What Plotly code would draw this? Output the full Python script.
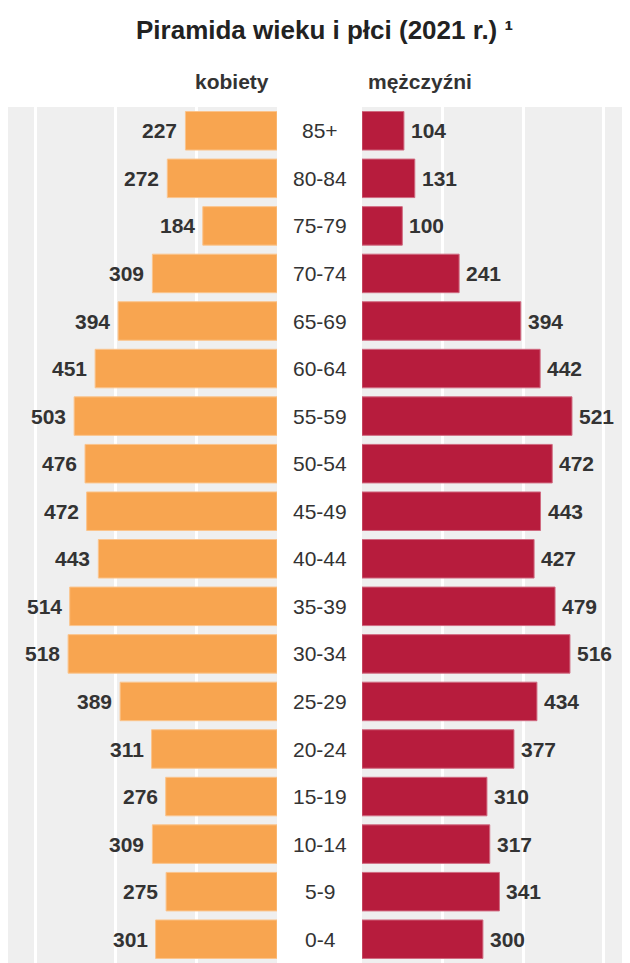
import plotly.graph_objects as go

ages = ["85+", "80-84", "75-79", "70-74", "65-69", "60-64", "55-59", "50-54", "45-49",
        "40-44", "35-39", "30-34", "25-29", "20-24", "15-19", "10-14", "5-9", "0-4"]
kobiety = [227, 272, 184, 309, 394, 451, 503, 476, 472, 443, 514, 518, 389, 311, 276, 309, 275, 301]
mezczyzni = [104, 131, 100, 241, 394, 442, 521, 472, 443, 427, 479, 516, 434, 377, 310, 317, 341, 300]

title_text = "Piramida wieku i płci (2021 r.) ¹"
left_label = "kobiety"
right_label = "mężczyźni"

# page body has an 8px margin in the browser; figure coordinates are offset by it
OFF = 8
W, H = 630, 963 - OFF
TOP, BOT = 107 - OFF, 0
FONT = "Liberation Sans, Arial, sans-serif"
ORANGE = "#F8A550"
CRIMSON = "#B71C3D"
TXT = "#333333"


def px_x(x):
    return (x - OFF) / W


ph = H - TOP - BOT


def px_y(y):
    return (H - BOT - (y - OFF)) / ph


fig = go.Figure()
fig.add_trace(go.Bar(y=ages, x=kobiety, orientation="h", xaxis="x", yaxis="y",
                     marker=dict(color=ORANGE, line=dict(color="#FBC48C", width=1)),
                     hoverinfo="x+y", showlegend=False))
fig.add_trace(go.Bar(y=ages, x=mezczyzni, orientation="h", xaxis="x2", yaxis="y",
                     marker=dict(color=CRIMSON, line=dict(color="#D06A80", width=1)),
                     hoverinfo="x+y", showlegend=False))

ann = []
for a, k, m in zip(ages, kobiety, mezczyzni):
    ann.append(dict(x=k, y=a, xref="x", yref="y", text=f"<b>{k}</b>", showarrow=False,
                    xanchor="right", xshift=-6, font=dict(family=FONT, size=21, color=TXT)))
    ann.append(dict(x=m, y=a, xref="x2", yref="y", text=f"<b>{m}</b>", showarrow=False,
                    xanchor="left", xshift=5, font=dict(family=FONT, size=21, color=TXT)))
    ann.append(dict(x=px_x(320), y=a, xref="paper", yref="y", text=a, showarrow=False,
                    xanchor="center", font=dict(family=FONT, size=21, color=TXT)))

ann.append(dict(x=px_x(324), y=px_y(30), xref="paper", yref="paper", text=f"<b>{title_text}</b>",
                showarrow=False, xanchor="center", yanchor="middle",
                font=dict(family=FONT, size=26, color="#222222")))
ann.append(dict(x=px_x(232), y=px_y(82), xref="paper", yref="paper", text=f"<b>{left_label}</b>",
                showarrow=False, xanchor="center", yanchor="middle",
                font=dict(family=FONT, size=21, color=TXT)))
ann.append(dict(x=px_x(420), y=px_y(82), xref="paper", yref="paper", text=f"<b>{right_label}</b>",
                showarrow=False, xanchor="center", yanchor="middle",
                font=dict(family=FONT, size=21, color=TXT)))

axis_common = dict(showticklabels=False, ticks="", zeroline=False, showline=False,
                   showgrid=True, gridcolor="white", gridwidth=3, dtick=200, tick0=0,
                   fixedrange=True)
fig.update_layout(
    width=W, height=H,
    margin=dict(l=0, r=0, t=TOP, b=BOT, pad=0),
    paper_bgcolor="white", plot_bgcolor="#EFEFEF",
    bargap=0.19,
    xaxis=dict(domain=[px_x(8), px_x(277)], range=[667, 0], anchor="y", **axis_common),
    xaxis2=dict(domain=[px_x(362), px_x(630)], range=[0, 665], anchor="y", **axis_common),
    yaxis=dict(autorange="reversed", showticklabels=False, showgrid=False, zeroline=False,
               ticks="", fixedrange=True),
    annotations=ann,
)

fig.write_html("out.html")
